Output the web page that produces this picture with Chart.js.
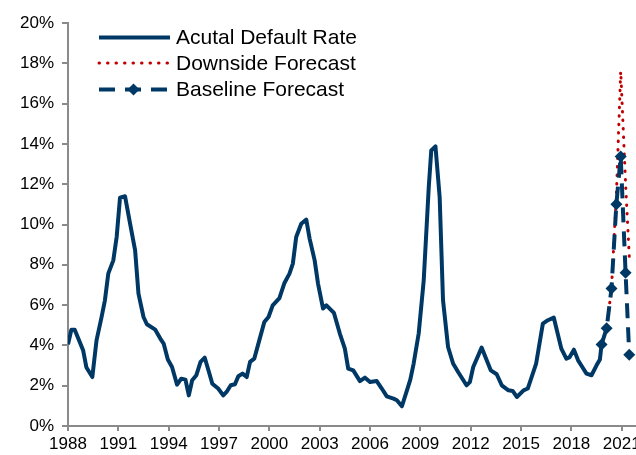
<!DOCTYPE html>
<html>
<head>
<meta charset="utf-8">
<script src="https://cdn.jsdelivr.net/npm/chart.js@4.4.1/dist/chart.umd.min.js"></script>
<style>
    html, body { margin: 0; padding: 0; overflow: hidden; background: #fff; }
</style>
</head>
<body>
<canvas id="chart" width="645" height="455"></canvas>
<script>
'use strict';

// Quarterly-ish default rate (year, %)
const actualYears = [
    1988.0, 1988.2, 1988.4, 1988.9, 1989.1, 1989.45, 1989.7, 1990.0, 1990.2, 1990.4,
    1990.7, 1990.9, 1991.1, 1991.4, 1991.7, 1992.0, 1992.2, 1992.5, 1992.7, 1993.2,
    1993.5, 1993.7, 1993.95, 1994.2, 1994.5, 1994.75, 1995.0, 1995.2, 1995.4, 1995.65,
    1995.9, 1996.15, 1996.4, 1996.6, 1996.95, 1997.25, 1997.45, 1997.7, 1997.95, 1998.15,
    1998.4, 1998.65, 1998.85, 1999.1, 1999.4, 1999.7, 1999.95, 2000.2, 2000.6, 2000.9,
    2001.2, 2001.4, 2001.6, 2001.9, 2002.2, 2002.4, 2002.7, 2002.9, 2003.2, 2003.4,
    2003.85, 2004.2, 2004.5, 2004.7, 2005.0, 2005.4, 2005.7, 2006.0, 2006.4, 2006.7,
    2007.0, 2007.4, 2007.6, 2007.9, 2008.2, 2008.4, 2008.6, 2008.9, 2009.2, 2009.5,
    2009.65, 2009.9, 2010.15, 2010.35, 2010.65, 2010.95, 2011.25, 2011.75, 2011.95, 2012.15,
    2012.65, 2013.2, 2013.55, 2013.85, 2014.25, 2014.5, 2014.75, 2015.15, 2015.4, 2015.9,
    2016.3, 2016.6, 2016.95, 2017.4, 2017.7, 2017.9, 2018.15, 2018.4, 2018.65, 2018.9,
    2019.2, 2019.5, 2019.7, 2019.8,
];
const actualRates = [
    4.05, 4.78, 4.78, 3.76, 2.9, 2.43, 4.25, 5.4, 6.24, 7.56,
    8.22, 9.38, 11.33, 11.4, 10.04, 8.72, 6.57, 5.41, 5.05, 4.78,
    4.34, 4.09, 3.3, 2.93, 2.05, 2.35, 2.3, 1.52, 2.27, 2.52,
    3.18, 3.39, 2.68, 2.1, 1.86, 1.52, 1.69, 2.02, 2.07, 2.47,
    2.6, 2.43, 3.18, 3.34, 4.25, 5.16, 5.41, 5.99, 6.35, 7.1,
    7.56, 8.06, 9.38, 10.04, 10.24, 9.3, 8.22, 7.07, 5.83, 5.99,
    5.61, 4.59, 3.84, 2.85, 2.76, 2.23, 2.4, 2.18, 2.23, 1.86,
    1.47, 1.36, 1.28, 0.98, 1.77, 2.3, 3.1, 4.59, 7.23, 11.86,
    13.68, 13.88, 11.36, 6.24, 3.92, 3.1, 2.68, 2.02, 2.18, 2.93,
    3.89, 2.76, 2.57, 2.02, 1.77, 1.74, 1.44, 1.77, 1.86, 3.1,
    5.08, 5.25, 5.38, 3.84, 3.34, 3.42, 3.79, 3.26, 2.93, 2.6,
    2.52, 3.01, 3.3, 4.05,
];

// Forecasts
const forecastYears = [2019.8, 2020.1, 2020.39, 2020.68, 2020.94, 2021.23, 2021.45];
const baselineRates = [4.05, 4.85, 6.82, 11.0, 13.37, 7.6, 3.53];
const downsideRates = [4.05, 4.85, 6.82, 11.4, 17.6, 12.0, 8.4];

const xTickYears = [1988, 1991, 1994, 1997, 2000, 2003, 2006, 2009, 2012, 2015, 2018, 2021];

const navy = '#003865';
const red = '#c00000';
const axisGrey = '#8a8a8a';
const fontFamily = 'Arial, "Liberation Sans", sans-serif';

const toPoints = function (xs, ys) {
    return xs.map((x, i) => ({ x: x, y: ys[i] }));
};

// Legend drawn inside the plot, top left, like the original
const insideLegend = {
    id: 'insideLegend',
    afterDraw(chart) {
        const ctx = chart.ctx;
        const rows = [37.5, 63, 89.5];
        const x0 = 99;
        const x1 = 170;
        ctx.save();
        ctx.font = '21px ' + fontFamily;
        ctx.textBaseline = 'middle';
        ctx.fillStyle = '#000';
        chart.data.datasets.forEach((ds, i) => {
            const y = rows[i];
            ctx.strokeStyle = ds.borderColor;
            ctx.lineWidth = ds.borderWidth;
            ctx.setLineDash(i === 2 ? [16, 10] : ds.borderDash || []);
            ctx.lineCap = i === 1 ? 'round' : 'butt';
            ctx.beginPath();
            ctx.moveTo(x0, y);
            ctx.lineTo(x1, y);
            ctx.stroke();
            if (i === 2) {
                ctx.setLineDash([]);
                ctx.fillStyle = navy;
                ctx.beginPath();
                ctx.moveTo(133.5, y - 6);
                ctx.lineTo(139.5, y);
                ctx.lineTo(133.5, y + 6);
                ctx.lineTo(127.5, y);
                ctx.closePath();
                ctx.fill();
                ctx.fillStyle = '#000';
            }
            ctx.fillText(ds.label, 176, y + 1);
        });
        ctx.restore();
    },
};

new Chart(document.getElementById('chart'), {
    type: 'line',
    data: {
        datasets: [
            {
                label: 'Acutal Default Rate',
                data: toPoints(actualYears, actualRates),
                borderColor: navy,
                borderWidth: 4,
                pointRadius: 0,
                order: 0,
            },
            {
                label: 'Downside Forecast',
                data: toPoints(forecastYears, downsideRates),
                borderColor: red,
                borderWidth: 3,
                borderDash: [0.5, 8],
                borderCapStyle: 'round',
                pointRadius: 0,
                order: 2,
            },
            {
                label: 'Baseline Forecast',
                data: toPoints(forecastYears, baselineRates),
                borderColor: navy,
                borderWidth: 4,
                borderDash: [15, 9],
                pointStyle: 'rectRot',
                pointRadius: 6,
                pointBackgroundColor: navy,
                pointBorderColor: navy,
                pointBorderWidth: 0,
                order: 1,
            },
        ],
    },
    options: {
        responsive: false,
        animation: false,
        layout: { padding: { top: 23, right: 6.5, left: 0, bottom: 0 } },
        elements: { line: { tension: 0, borderJoinStyle: 'round' } },
        plugins: {
            legend: { display: false },
            tooltip: { enabled: false },
        },
        scales: {
            x: {
                type: 'linear',
                min: 1988,
                max: 2022,
                afterBuildTicks: (axis) => {
                    axis.ticks = xTickYears.map((v) => ({ value: v }));
                },
                afterFit: (scale) => {
                    scale.height = 29;
                },
                grid: {
                    drawOnChartArea: false,
                    tickLength: 5,
                    color: axisGrey,
                    lineWidth: 2,
                },
                border: { color: axisGrey, width: 2 },
                ticks: {
                    autoSkip: false,
                    maxRotation: 0,
                    padding: 3,
                    color: '#000',
                    font: { family: fontFamily, size: 17 },
                    callback: (value) => String(value),
                },
            },
            y: {
                min: 0,
                max: 20,
                afterFit: (scale) => {
                    scale.width = 68;
                },
                grid: {
                    drawOnChartArea: false,
                    tickLength: 6,
                    color: axisGrey,
                    lineWidth: 2,
                },
                border: { color: axisGrey, width: 2 },
                ticks: {
                    stepSize: 2,
                    padding: 8,
                    color: '#000',
                    font: { family: fontFamily, size: 17 },
                    callback: (value) => value + '%',
                },
            },
        },
    },
    plugins: [insideLegend],
});
</script>
</body>
</html>
